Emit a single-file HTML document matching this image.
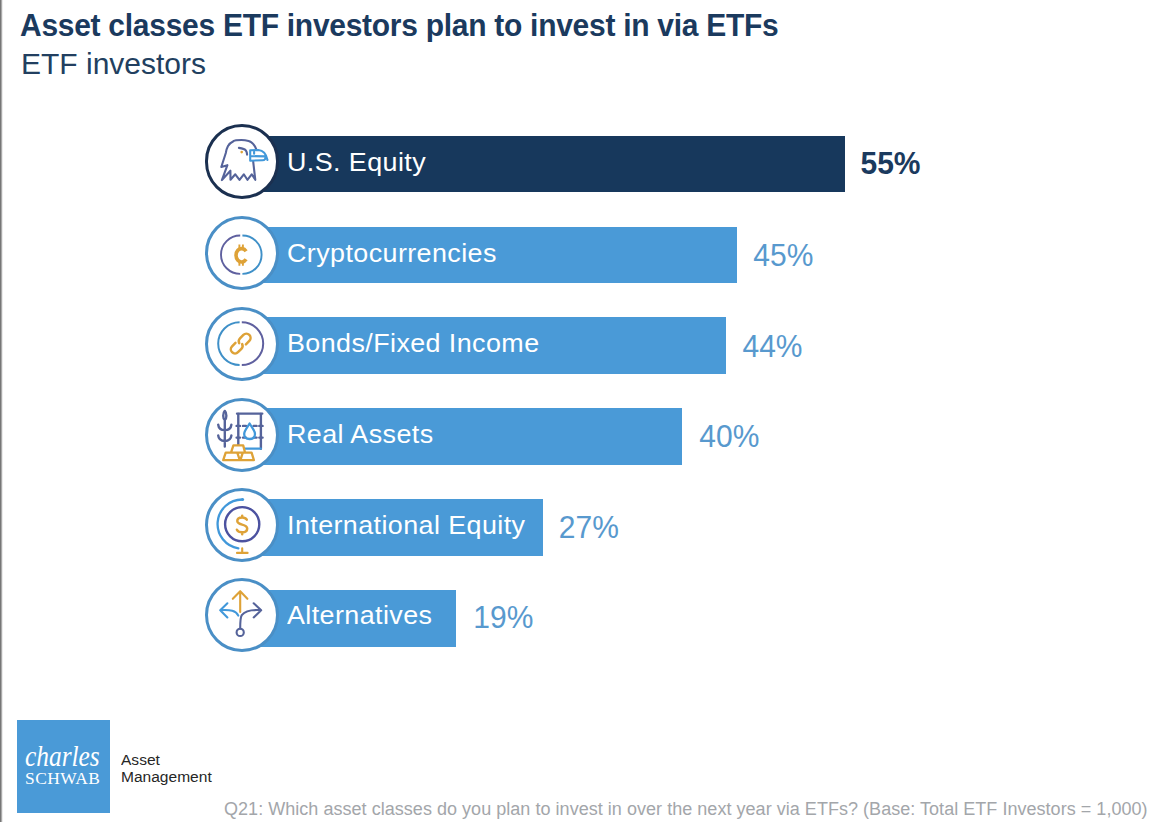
<!DOCTYPE html>
<html><head><meta charset="utf-8">
<style>
html,body{margin:0;padding:0;}
body{width:1170px;height:822px;position:relative;overflow:hidden;background:#fff;font-family:"Liberation Sans",sans-serif;}
.lb{position:absolute;left:0;top:0;width:3px;height:822px;background:linear-gradient(to right,#767676 0,#767676 1px,#a9a9a9 1px,#a9a9a9 2px,#ebebeb 2px,#ebebeb 3px);}
.t{position:absolute;white-space:nowrap;line-height:1;}
#title{left:20px;top:10.2px;font-size:30px;font-weight:bold;color:#1b3a5e;letter-spacing:-0.28px;transform:scaleY(1.03);transform-origin:0 0;}
#sub{left:21px;top:49px;font-size:30px;color:#223f60;transform:scaleY(1.0);transform-origin:0 0;}
.bar{position:absolute;left:250px;height:56.7px;background:#4a9ad7;}
.circ{position:absolute;left:204.6px;width:68.4px;height:68.4px;border-radius:50%;background:#fff;border:3px solid #4a8fc6;}
.lbl{position:absolute;left:286.5px;font-size:26px;color:#fff;white-space:nowrap;line-height:1;letter-spacing:0.4px;transform:scale(1.034,1.02);transform-origin:0 0;}
.pct{position:absolute;font-size:30px;color:#5899ce;white-space:nowrap;line-height:1;transform:scaleY(1.06);transform-origin:0 0;}
.ico{position:absolute;left:204.6px;width:74.4px;height:74.4px;}
#foot{left:224px;top:800px;font-size:18px;color:#a3a6aa;letter-spacing:0.035px;}
#logo{position:absolute;left:17px;top:720px;width:93px;height:93px;background:#4a9ad7;}
</style></head><body>
<div class="lb"></div>
<div class="t" id="title">Asset classes ETF investors plan to invest in via ETFs</div>
<div class="t" id="sub">ETF investors</div>
<div class="bar" style="top:135.7px;width:595px;background:#17385c;"></div>
<div class="circ" style="top:124.40px;border-color:#1b3050;"></div>
<svg class="ico" style="top:124.40px" viewBox="0 0 74.4 74.4"><g transform="translate(0.9 1.2)"><g fill="none" stroke-linecap="round" stroke-linejoin="round" stroke-width="2.1"><path stroke="#55639a" d="M50.3 23.9 C49 20.5 46.5 16.8 42.7 15.7 C40 15 37.5 14.8 35.5 14.8 C31 14.8 28.5 15.3 27.5 16 C24.5 17.5 22.8 19.2 22.1 20.9 C21 23 20.3 25.5 19.9 27.8 L15.4 41.8 L21.5 40.0 L16.0 54.9 L24.5 45.5 L24.6 54.6 L29.4 49.1 L33.6 54.6 L37.9 49.1 L41.5 54.6 L45.8 49.1 L49.4 54.6 L47.3 36.4"/><path stroke="#55639a" d="M33.0 22.7 C36.5 23.2 39 23.8 39.9 25.2 C40.8 26.5 41.1 28 41.2 29.4"/><circle cx="35.8" cy="26.9" r="1.3" fill="#dea237" stroke="none"/><path stroke="#4198da" d="M44.3 25.1 L52.5 24.8 C57.5 25.2 60.5 29.5 61.6 34.8 M44.3 25.1 L44.3 35.5 L56.7 35.1 C58.8 35 59.8 33 59.8 31.2 L45.2 30.9 M48.2 26.9 L48.2 28.5"/></g></g></svg>
<div class="lbl" style="top:149.2px;">U.S. Equity</div>
<div class="pct" style="left:860.5px;top:148.3px;font-weight:bold;color:#1b3a5e;">55%</div>
<div class="bar" style="top:226.8px;width:487px;"></div>
<div class="circ" style="top:215.50px;"></div>
<svg class="ico" style="top:215.50px" viewBox="0 0 74.4 74.4"><g transform="translate(-0.3 0)"><g fill="none" stroke-linecap="round" stroke-linejoin="round" stroke-width="1.9"><path stroke="#5f609f" stroke-linecap="butt" d="M35.5 19.5 A19.2 19.2 0 0 0 35.5 57.9"/><path stroke="#3f90c8" stroke-linecap="butt" d="M37.7 19.5 A19.2 19.2 0 0 1 37.7 57.9"/><path stroke="#dea237" stroke-width="3.6" stroke-linecap="butt" d="M41.4 35.3 A5.6 6.7 0 1 0 41.4 43.3"/><path stroke="#dea237" stroke-width="1.9" stroke-linecap="butt" d="M34.7 28.6 L34.7 32.8 M38.2 28.6 L38.2 32.8 M34.7 45.8 L34.7 49.8 M38.2 45.8 L38.2 49.8"/></g></g></svg>
<div class="lbl" style="top:240.3px;">Cryptocurrencies</div>
<div class="pct" style="left:753.3px;top:240.0px;">45%</div>
<div class="bar" style="top:317.3px;width:476px;"></div>
<div class="circ" style="top:306.70px;"></div>
<svg class="ico" style="top:306.70px" viewBox="0 0 74.4 74.4"><g transform="translate(-0.5 0)"><g fill="none" stroke-linecap="round" stroke-linejoin="round" stroke-width="2.0"><path stroke="#3f90c8" stroke-linecap="butt" d="M35.1 15.2 A21.4 21.4 0 0 0 35.1 58.0"/><path stroke="#5f609f" stroke-linecap="butt" d="M37.3 15.2 A21.4 21.4 0 0 1 37.3 58.0"/><g stroke="#dea237" stroke-width="2.5" transform="rotate(-45 36.2 36.6)"><path d="M33 32.4 L28.2 32.4 A4.2 4.2 0 0 0 28.2 40.8 L33 40.8 A4.2 4.2 0 0 0 36.9 38"/><path d="M39.4 40.8 L44.2 40.8 A4.2 4.2 0 0 0 44.2 32.4 L39.4 32.4 A4.2 4.2 0 0 0 35.5 35.2"/></g></g></g></svg>
<div class="lbl" style="top:329.8px;">Bonds/Fixed Income</div>
<div class="pct" style="left:742.5px;top:330.9px;">44%</div>
<div class="bar" style="top:408.0px;width:432.3px;"></div>
<div class="circ" style="top:397.80px;"></div>
<svg class="ico" style="top:397.80px" viewBox="0 0 74.4 74.4"><g transform="translate(0 0)"><g fill="none" stroke-linecap="round" stroke-linejoin="round" stroke-width="2.1"><path stroke="#55639a" stroke-width="2.4" d="M19.8 22 L19.8 48.5 M19.8 12.9 C17.7 15 17.7 20.6 19.8 22.1 C21.9 20.6 21.9 15 19.8 12.9 M13.2 26.6 C13.6 30.5 15.8 32.1 19.8 32.1 C23.8 32.1 26 30.5 26.4 26.6 M13.2 37.5 C13.6 41.4 15.8 43 19.8 43 C23.8 43 26 41.4 26.4 37.5"/><path stroke="#55639a" stroke-width="2.4" d="M33.3 16 L33.3 50.8 M55.9 16 L55.9 50.8 M31.6 27.9 L35 27.9 M54.3 27.9 L57.6 27.9 M31.6 39.6 L35 39.6 M54.3 39.6 L57.6 39.6 M38 27.9 L41 27.9 M48.6 27.9 L51.6 27.9 M38 39.6 L41 39.6 M48.6 39.6 L51.6 39.6"/><path stroke="#55639a" stroke-width="2.3" d="M32 15.7 L57.3 15.7"/><path stroke="#4198da" stroke-width="2.3" d="M33.3 50.6 L55.9 50.6 M44.6 25.5 C42.6 29 39.2 32.5 39.2 36 C39.2 39.3 41.6 41 44.6 41 C47.6 41 50 39.3 50 36 C50 32.5 46.6 29 44.6 25.5 Z"/><path stroke="#dea237" stroke-width="2.3" fill="#fff" d="M26 54.7 L40.1 54.7 L38.2 47.4 L28.4 47.4 Z M18.2 62.2 L34.8 62.2 L32.3 54.7 L20.7 54.7 Z M35.4 62.2 L48.9 62.2 L46.6 54.7 L37.8 54.7 Z"/></g></g></svg>
<div class="lbl" style="top:420.5px;">Real Assets</div>
<div class="pct" style="left:699.3px;top:421.4px;">40%</div>
<div class="bar" style="top:499.3px;width:292.8px;"></div>
<div class="circ" style="top:487.70px;"></div>
<svg class="ico" style="top:487.70px" viewBox="0 0 74.4 74.4"><g transform="translate(0 0.7)"><g fill="none" stroke-linecap="round" stroke-linejoin="round" stroke-width="2.1"><circle cx="37.2" cy="35.5" r="17.1" stroke="#4c52a0" stroke-width="2.4"/><path stroke="#4198da" stroke-width="2.3" d="M37.2 10.8 A24.6 24.6 0 0 0 33.35 59.7"/><circle cx="37.6" cy="10.8" r="1.5" fill="#4198da" stroke="none"/><path stroke="#dea237" d="M37.2 59.6 L37.2 63.6 M32 64.2 L42.6 64.2"/><path stroke="#dea237" stroke-width="2.5" d="M41.8 31 C40.8 29.4 39.2 28.8 37.2 28.8 C34.2 28.8 32.3 30.2 32.3 32.3 C32.3 37 42.2 34.8 42.2 39.8 C42.2 42.2 40 43.6 37.2 43.6 C34.8 43.6 32.8 42.8 31.9 41 M37.2 27 L37.2 28.8 M37.2 43.6 L37.2 45.6"/></g></g></svg>
<div class="lbl" style="top:511.8px;">International Equity</div>
<div class="pct" style="left:558.8px;top:511.7px;">27%</div>
<div class="bar" style="top:589.9px;width:206.3px;"></div>
<div class="circ" style="top:577.55px;"></div>
<svg class="ico" style="top:577.55px" viewBox="0 0 74.4 74.4"><g transform="translate(-0.2 1.6)"><g fill="none" stroke-linecap="round" stroke-linejoin="round" stroke-width="2.1"><path stroke="#dea237" d="M35.4 32.4 L35.4 11.6 M28 19.2 L35.4 11.6 L42.6 19.2"/><path stroke="#4198da" d="M22.6 23.7 L15.4 30.6 L22.6 37.8 M15.4 30.6 C26 30 31 31 33.5 36"/><path stroke="#55639a" d="M48.9 23.7 L56.4 30.6 L48.9 37.8 M56.4 30.6 C48 30 41 30.5 37 35.5 C35.5 37.5 35.4 40 35.4 49 "/><circle cx="35.4" cy="52.8" r="3.6" stroke="#55639a"/></g></g></svg>
<div class="lbl" style="top:601.9px;">Alternatives</div>
<div class="pct" style="left:473.3px;top:602.3px;">19%</div>
<div id="logo"></div>
<div class="t" style="left:24.5px;top:742px;font-family:'Liberation Serif',serif;font-style:italic;font-size:27px;color:#fff;transform:scale(0.94,1.075);transform-origin:0 0;">charles</div>
<div class="t" style="left:25px;top:770px;font-family:'Liberation Serif',serif;font-size:17.4px;letter-spacing:0.5px;color:#fff;">SCHWAB</div>
<div class="t" style="left:121px;top:753.4px;font-size:14px;color:#262626;transform:scaleX(1.11);transform-origin:0 0;">Asset</div>
<div class="t" style="left:121px;top:770.4px;font-size:14px;color:#262626;transform:scaleX(1.11);transform-origin:0 0;">Management</div>
<div class="t" id="foot">Q21: Which asset classes do you plan to invest in over the next year via ETFs? (Base: Total ETF Investors = 1,000)</div>
</body></html>
